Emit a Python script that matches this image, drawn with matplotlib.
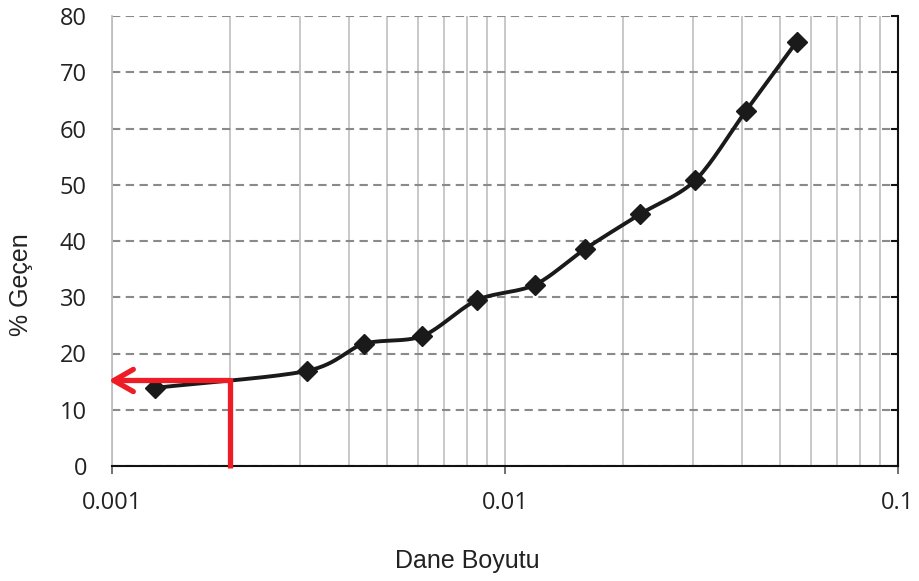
import numpy as np
import matplotlib
matplotlib.use("Agg")
import matplotlib.pyplot as plt
from matplotlib.ticker import LogLocator, NullFormatter

plt.rcParams['font.family'] = ['Liberation Sans', 'DejaVu Sans']

# data
grain_size = [0.00129, 0.00313, 0.00437, 0.00616, 0.00849, 0.0119, 0.0160, 0.0221, 0.0305, 0.0410, 0.0552]
passing = [13.9, 16.9, 21.7, 23.1, 29.5, 32.2, 38.6, 44.8, 50.8, 63.1, 75.4]
x_ticks = [0.001, 0.01, 0.1]
x_tick_labels = ['0.001', '0.01', '0.1']
y_ticks = [0, 10, 20, 30, 40, 50, 60, 70, 80]
d_read = 0.002
p_read = 15.2


def catmull_rom(px, py, n=30):
    px = np.asarray(px, float)
    py = np.asarray(py, float)
    P = np.column_stack([px, py])
    P = np.vstack([2 * P[0] - P[1], P, 2 * P[-1] - P[-2]])
    out = []
    for i in range(1, len(P) - 2):
        p0, p1, p2, p3 = P[i - 1], P[i], P[i + 1], P[i + 2]
        t = np.linspace(0, 1, n, endpoint=False)[:, None]
        m1 = (p2 - p0) / 2 * 0.9
        m2 = (p3 - p1) / 2 * 0.9
        h00 = 2 * t**3 - 3 * t**2 + 1
        h10 = t**3 - 2 * t**2 + t
        h01 = -2 * t**3 + 3 * t**2
        h11 = t**3 - t**2
        out.append(h00 * p1 + h10 * m1 + h01 * p2 + h11 * m2)
    out.append(P[-2][None, :])
    out = np.vstack(out)
    return out[:, 0], out[:, 1]


fig = plt.figure(figsize=(9.2, 5.81), dpi=100)
ax = fig.add_axes([112 / 920, 1 - 466 / 581, (898 - 112) / 920, (466 - 16) / 581])
ax.set_xscale('log')
ax.set_xlim(0.001, 0.1)
ax.set_ylim(0, 80)

# grids
ax.xaxis.set_minor_locator(LogLocator(base=10, subs=np.arange(2, 10)))
ax.xaxis.set_minor_formatter(NullFormatter())
ax.set_xticks(x_ticks)
ax.set_xticklabels(x_tick_labels)
ax.set_yticks(y_ticks)
ax.grid(True, which='both', axis='x', color='#c4c4c4', linewidth=1.3, linestyle='-')
ax.grid(True, which='major', axis='y', color='#8a8a8a', linewidth=1.5, linestyle=(0, (4, 2.6)))
ax.set_axisbelow(True)

# curve
lx, ly = catmull_rom(np.log10(grain_size), passing)
ax.plot(10 ** lx, ly, color='#1a1a1a', linewidth=2.8, zorder=3)
ax.plot(grain_size, passing, linestyle='none', marker='D', markersize=10,
        color='#1a1a1a', zorder=4)

# red arrow
ax.plot([d_read, d_read], [-0.4, p_read], color='#ee1c25', linewidth=3.8,
        solid_capstyle='butt', zorder=5, clip_on=False)
ax.annotate('', xy=(0.00098, p_read), xytext=(d_read * 1.003, p_read),
            arrowprops=dict(arrowstyle='->,head_length=1.4,head_width=0.8',
                            color='#ee1c25', lw=3.8, shrinkA=0, shrinkB=0),
            annotation_clip=False, zorder=5)

# spines
ax.spines['top'].set_visible(False)
ax.spines['left'].set_color('#bfbfbf')
ax.spines['left'].set_linewidth(1.3)
ax.spines['right'].set_color('#111111')
ax.spines['right'].set_linewidth(1.5)
ax.spines['bottom'].set_color('#111111')
ax.spines['bottom'].set_linewidth(1.5)

ax.tick_params(axis='y', left=False, right=True, direction='in', length=5,
               width=1.5, color='#111111', labelsize=17, pad=18, labelcolor='#222222')
ax.tick_params(axis='x', which='major', direction='out', length=6, width=1.3,
               color='#666666', labelsize=17, pad=12, labelcolor='#222222')
ax.tick_params(axis='x', which='minor', length=0)
for lab in ax.get_xticklabels() + ax.get_yticklabels():
    lab.set_family(['Open Sans', 'DejaVu Sans'])

fig.text(21 / 920, 1 - 285 / 581, '% Geçen', rotation=90, ha='center', va='center',
         fontsize=18, color='#222222')
fig.text(467 / 920, 1 - 561 / 581, 'Dane Boyutu', ha='center', va='center',
         fontsize=18, color='#222222')

fig.savefig('out.png', dpi=100)
